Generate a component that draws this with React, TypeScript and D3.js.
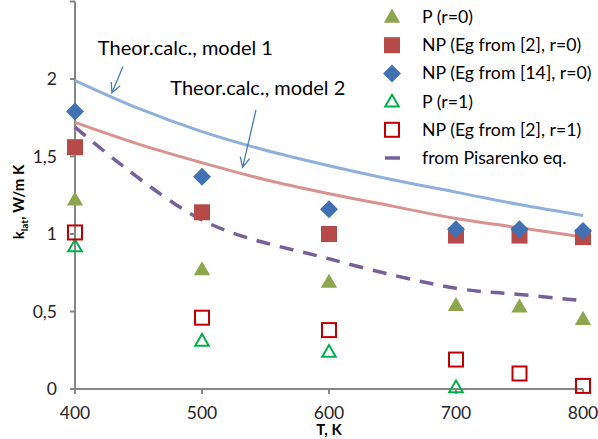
import { useEffect, useRef } from "react";
import * as d3 from "d3";

// measured points (T, K)
const temps = [400, 500, 600, 700, 750, 800];
const pR0 = [1.22, 0.77, 0.69, 0.54, 0.53, 0.45];
const np2R0 = [1.56, 1.14, 1.0, 0.99, 0.99, 0.98];
const np14R0 = [1.79, 1.37, 1.16, 1.03, 1.03, 1.02];
const pR1Temps = [400, 500, 600, 700];
const pR1 = [0.92, 0.31, 0.24, 0.01];
const np2R1 = [1.01, 0.46, 0.38, 0.19, 0.1, 0.02];
const pisarenko = [1.69, 1.09, 0.84, 0.65, 0.61, 0.57];

// theoretical curves
const theoryTemps = [400, 450, 500, 550, 600, 650, 700, 750, 800];
const model1 = [1.99, 1.81, 1.66, 1.54, 1.44, 1.35, 1.27, 1.19, 1.12];
const model2 = [1.72, 1.58, 1.46, 1.35, 1.26, 1.18, 1.1, 1.04, 0.98];

const xTicks = [400, 500, 600, 700, 800];
const yTicks = [0, 0.5, 1, 1.5, 2];

const legendItems = [
  { label: "P (r=0)", kind: "triFill" },
  { label: "NP (Eg from [2], r=0)", kind: "square" },
  { label: "NP (Eg from [14], r=0)", kind: "diamond" },
  { label: "P (r=1)", kind: "triOpen" },
  { label: "NP (Eg from [2], r=1)", kind: "squareOpen" },
  { label: "from Pisarenko eq.", kind: "dash" },
];

const FONT = "Lato, 'Liberation Sans', sans-serif";
const C = {
  green: "#8da64d",
  red: "#b64a48",
  blue: "#4271b3",
  greenOpen: "#00b050",
  redOpen: "#c00000",
  purple: "#76609c",
  m1: "#90afda",
  m2: "#d89290",
  axis: "#868686",
  text: "#262626",
  arrow: "#4a7ebb",
};

function App() {
  const ref = useRef<HTMLDivElement>(null);

  useEffect(() => {
    const container = d3.select(ref.current);
    container.selectAll("*").remove();

    const width = 598;
    const height = 439;

    const svg = container
      .append("svg")
      .attr("width", width)
      .attr("height", height)
      .style("position", "absolute")
      .style("left", "0px")
      .style("top", "0px")
      .style("font-family", FONT);

    const x = d3.scaleLinear().domain([400, 800]).range([75, 583]);
    const y = d3.scaleLinear().domain([0, 2.5]).range([389, 1.5]);

    // axes
    const axis = svg.append("g").attr("stroke", C.axis).attr("stroke-width", 2);
    axis.append("line").attr("x1", x(400)).attr("x2", x(800)).attr("y1", y(0)).attr("y2", y(0));
    axis.append("line").attr("x1", x(400)).attr("x2", x(400)).attr("y1", y(0)).attr("y2", y(2.5));
    xTicks.forEach((t) => {
      axis.append("line").attr("x1", x(t)).attr("x2", x(t)).attr("y1", y(0)).attr("y2", y(0) + 5);
    });
    [...yTicks, 2.5].forEach((t) => {
      axis.append("line").attr("x1", x(400) - 5).attr("x2", x(400)).attr("y1", y(t)).attr("y2", y(t));
    });

    svg
      .append("g")
      .selectAll("text")
      .data(xTicks)
      .enter()
      .append("text")
      .attr("x", (d) => x(d))
      .attr("y", 419)
      .attr("text-anchor", "middle")
      .attr("fill", C.text)
      .style("font-size", "17.5px")
      .text((d) => d);

    svg
      .append("g")
      .selectAll("text")
      .data(yTicks)
      .enter()
      .append("text")
      .attr("x", 57)
      .attr("y", (d) => y(d) + 6)
      .attr("text-anchor", "end")
      .attr("fill", C.text)
      .style("font-size", "17.5px")
      .text((d) => String(d).replace(".", ","));

    svg
      .append("text")
      .attr("x", x(600))
      .attr("y", 435)
      .attr("text-anchor", "middle")
      .attr("fill", "#000")
      .style("font-size", "15px")
      .style("font-weight", "bold")
      .text("T, K");

    const yl = svg
      .append("text")
      .attr("transform", "translate(24,202) rotate(-90)")
      .attr("text-anchor", "middle")
      .attr("fill", "#000")
      .style("font-size", "15px")
      .style("font-weight", "bold");
    yl.append("tspan").text("k");
    yl.append("tspan").attr("dy", 4).style("font-size", "10px").text("lat");
    yl.append("tspan").attr("dy", -4).text(", W/m K");

    // lines
    const line = d3
      .line<[number, number]>()
      .x((d) => x(d[0]))
      .y((d) => y(d[1]))
      .curve(d3.curveCatmullRom.alpha(0.5));

    svg
      .append("path")
      .attr("d", line(theoryTemps.map((t, i) => [t, model1[i]])))
      .attr("fill", "none")
      .attr("stroke", C.m1)
      .attr("stroke-width", 3);
    svg
      .append("path")
      .attr("d", line(theoryTemps.map((t, i) => [t, model2[i]])))
      .attr("fill", "none")
      .attr("stroke", C.m2)
      .attr("stroke-width", 3);
    svg
      .append("path")
      .attr("d", line(temps.map((t, i) => [t, pisarenko[i]])))
      .attr("fill", "none")
      .attr("stroke", C.purple)
      .attr("stroke-width", 3.5)
      .attr("stroke-dasharray", "14,10");

    // markers
    const tri = d3.symbol(d3.symbolTriangle, 115);
    const drawMarker = (g, kind, cx, cy) => {
      if (kind === "triFill") {
        g.append("path").attr("d", tri()).attr("transform", `translate(${cx},${cy + 1})`).attr("fill", C.green);
      } else if (kind === "square") {
        g.append("rect").attr("x", cx - 8).attr("y", cy - 8).attr("width", 16).attr("height", 16).attr("fill", C.red);
      } else if (kind === "diamond") {
        g.append("path")
          .attr("d", `M${cx},${cy - 9}L${cx + 9},${cy}L${cx},${cy + 9}L${cx - 9},${cy}Z`)
          .attr("fill", C.blue);
      } else if (kind === "triOpen") {
        g.append("path")
          .attr("d", d3.symbol(d3.symbolTriangle, 80)())
          .attr("transform", `translate(${cx},${cy + 1})`)
          .attr("fill", "none")
          .attr("stroke", C.greenOpen)
          .attr("stroke-width", 2);
      } else if (kind === "squareOpen") {
        g.append("rect")
          .attr("x", cx - 7)
          .attr("y", cy - 7)
          .attr("width", 14)
          .attr("height", 14)
          .attr("fill", "none")
          .attr("stroke", C.redOpen)
          .attr("stroke-width", 2);
      } else if (kind === "dash") {
        g.append("line")
          .attr("x1", cx - 7)
          .attr("x2", cx + 8)
          .attr("y1", cy)
          .attr("y2", cy)
          .attr("stroke", C.purple)
          .attr("stroke-width", 3.5);
      }
    };

    const marks = svg.append("g");
    temps.forEach((t, i) => drawMarker(marks, "triFill", x(t), y(pR0[i])));
    temps.forEach((t, i) => drawMarker(marks, "square", x(t), y(np2R0[i])));
    temps.forEach((t, i) => drawMarker(marks, "diamond", x(t), y(np14R0[i])));
    pR1Temps.forEach((t, i) => drawMarker(marks, "triOpen", x(t), y(pR1[i])));
    temps.forEach((t, i) => drawMarker(marks, "squareOpen", x(t), y(np2R1[i])));

    // annotations
    const notes = [
      { text: "Theor.calc., model 1", tx: 418, ty: 2.2, from: [437.8, 2.08], to: [429, 1.91] },
      { text: "Theor.calc., model 2", tx: 475, ty: 1.94, from: [542.5, 1.8], to: [532, 1.43] },
    ];
    notes.forEach((n) => {
      svg
        .append("text")
        .attr("x", x(n.tx))
        .attr("y", y(n.ty) + 7)
        .attr("fill", "#000")
        .style("font-size", "20px")
        .text(n.text);
      const x1 = x(n.from[0]);
      const y1 = y(n.from[1]);
      const x2 = x(n.to[0]);
      const y2 = y(n.to[1]);
      const ang = Math.atan2(y2 - y1, x2 - x1);
      const hl = 11;
      const a = Math.PI / 7;
      const p = d3.path();
      p.moveTo(x1, y1);
      p.lineTo(x2, y2);
      p.moveTo(x2 - hl * Math.cos(ang - a), y2 - hl * Math.sin(ang - a));
      p.lineTo(x2, y2);
      p.lineTo(x2 - hl * Math.cos(ang + a), y2 - hl * Math.sin(ang + a));
      svg
        .append("path")
        .attr("d", p.toString())
        .attr("fill", "none")
        .attr("stroke", C.arrow)
        .attr("stroke-width", 1.3);
    });

    // legend
    const legend = svg.append("g");
    legendItems.forEach((item, i) => {
      const cy = 17 + i * 28.2;
      drawMarker(legend, item.kind, 392, cy);
      legend
        .append("text")
        .attr("x", 422)
        .attr("y", cy + 6)
        .attr("fill", "#000")
        .style("font-size", "17.7px")
        .text(item.label);
    });
  }, []);

  return <div ref={ref} />;
}

export default App;
